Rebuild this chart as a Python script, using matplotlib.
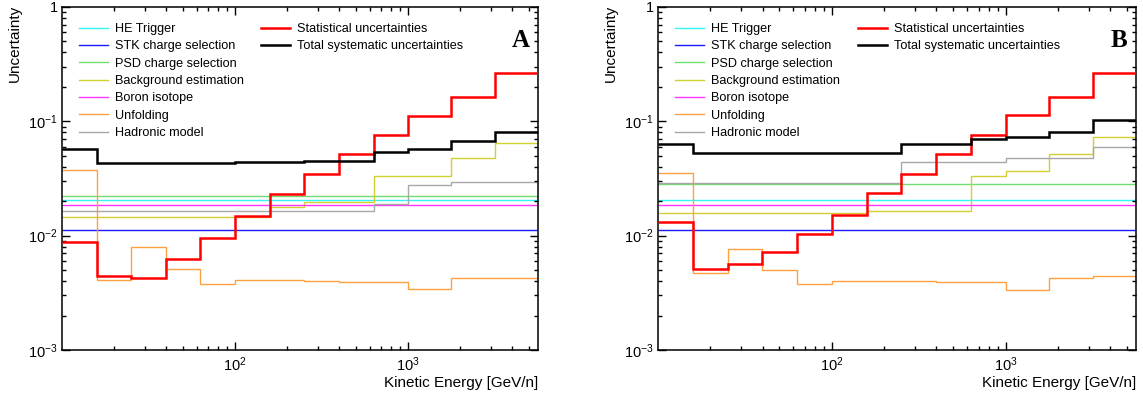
import matplotlib
matplotlib.use("Agg")
import matplotlib.pyplot as plt
from matplotlib.ticker import FixedLocator, FixedFormatter, LogLocator, NullFormatter
import numpy as np

plt.rcParams['font.family'] = 'Liberation Sans'
plt.rcParams['mathtext.fontset'] = 'custom'
plt.rcParams['mathtext.rm'] = 'Liberation Sans'
plt.rcParams['mathtext.it'] = 'Liberation Sans:italic'

# bin edges in kinetic energy [GeV/n]
energy_edges = [10, 15.85, 25.12, 39.81, 63.1, 100, 158.5, 251.2, 398.1, 631, 1000, 1778, 3162, 5623]

names = ["HE Trigger", "STK charge selection", "PSD charge selection", "Background estimation",
         "Boron isotope", "Unfolding", "Hadronic model"]
colors = ["#33f5f5", "#1a1aff", "#70dd70", "#d0d030", "#ff33ff", "#ffa040", "#a8a8a8"]

# panel A
he_a = 0.0204
stk_a = 0.0111
psd_a = 0.0224
boron_a = 0.0185
bkg_a = [0.0145, 0.0145, 0.0145, 0.0145, 0.0145, 0.0145, 0.0177, 0.0196, 0.0196, 0.0331, 0.0331, 0.0481, 0.0647]
unf_a = [0.0373, 0.0041, 0.0079, 0.0051, 0.0038, 0.0041, 0.0041, 0.0040, 0.0039, 0.0039, 0.0034, 0.0043, 0.0043]
had_a = [0.0165, 0.0165, 0.0165, 0.0165, 0.0165, 0.0165, 0.0165, 0.0165, 0.0165, 0.0188, 0.0279, 0.0293, 0.0293]
stat_a = [0.0088, 0.0044, 0.0043, 0.0062, 0.0096, 0.0149, 0.0232, 0.0347, 0.0522, 0.0767, 0.112, 0.163, 0.265]
sys_a = [0.0568, 0.0433, 0.0434, 0.0432, 0.0432, 0.0438, 0.0444, 0.0453, 0.0453, 0.0537, 0.0574, 0.0678, 0.0802]

# panel B
he_b = 0.0204
stk_b = 0.0111
psd_b = 0.0284
boron_b = 0.0185
bkg_b = [0.0157, 0.0157, 0.0157, 0.0157, 0.0157, 0.0157, 0.0164, 0.0164, 0.0164, 0.0331, 0.0366, 0.0519, 0.0727]
unf_b = [0.0356, 0.0047, 0.0076, 0.0050, 0.0038, 0.0040, 0.0040, 0.0040, 0.0039, 0.0039, 0.00335, 0.0043, 0.0044]
had_b = [0.0286, 0.0286, 0.0286, 0.0286, 0.0286, 0.0286, 0.0286, 0.0441, 0.0441, 0.0441, 0.0481, 0.0481, 0.0601]
stat_b = [0.0133, 0.0051, 0.0056, 0.0072, 0.0104, 0.0153, 0.0237, 0.0347, 0.0519, 0.0764, 0.113, 0.164, 0.265]
sys_b = [0.0634, 0.0526, 0.0527, 0.0526, 0.0526, 0.0526, 0.0526, 0.0631, 0.0631, 0.0697, 0.0731, 0.0813, 0.1028]

y_ticks = [1e-3, 1e-2, 1e-1, 1]
y_ticklabels = ["10$^{-3}$", "10$^{-2}$", "10$^{-1}$", "1"]
x_ticks = [100, 1000]
x_ticklabels = ["10$^{2}$", "10$^{3}$"]

W, H = 1143, 398
legend_kw = dict(loc="upper left", frameon=False, fontsize=9.1, handlelength=2.3,
                 handletextpad=0.55, labelspacing=0.42, borderaxespad=0, borderpad=0)


def draw_panel(ax, components, stat, syst, letter):
    nbins = len(energy_edges) - 1
    handles = []
    for name, col, vals in zip(names, colors, components):
        if np.isscalar(vals):
            vals = [vals] * nbins
        h = ax.stairs(vals, energy_edges, baseline=None, color=col, linewidth=1.0, label=name)
        handles.append(h)
    hs = ax.stairs(stat, energy_edges, baseline=None, color="#ff0000", linewidth=1.8,
                   label="Statistical uncertainties", zorder=4)
    ht = ax.stairs(syst, energy_edges, baseline=None, color="black", linewidth=1.8,
                   label="Total systematic uncertainties", zorder=5)

    ax.set_xscale("log")
    ax.set_yscale("log")
    ax.set_xlim(energy_edges[0], energy_edges[-1])
    ax.set_ylim(1e-3, 1)

    ax.yaxis.set_major_locator(FixedLocator(y_ticks))
    ax.yaxis.set_major_formatter(FixedFormatter(y_ticklabels))
    ax.yaxis.set_minor_locator(LogLocator(base=10, subs=np.arange(2, 10)))
    ax.yaxis.set_minor_formatter(NullFormatter())
    ax.xaxis.set_major_locator(FixedLocator(x_ticks))
    ax.xaxis.set_major_formatter(FixedFormatter(x_ticklabels))
    ax.xaxis.set_minor_locator(LogLocator(base=10, subs=np.arange(2, 10)))
    ax.xaxis.set_minor_formatter(NullFormatter())
    ax.tick_params(which="both", direction="in", top=True, right=True, labelsize=10.5, width=1.0)
    ax.tick_params(which="major", length=5.5)
    ax.tick_params(which="minor", length=2.8)
    ax.tick_params(axis="y", pad=3)
    ax.tick_params(axis="x", pad=4)
    for s in ax.spines.values():
        s.set_linewidth(1.1)

    leg1 = ax.legend(handles=handles, bbox_to_anchor=(0.036, 0.953), **legend_kw)
    ax.add_artist(leg1)
    ax.legend(handles=[hs, ht], bbox_to_anchor=(0.418, 0.953), **legend_kw)

    ax.text(0.983, 0.937, letter, transform=ax.transAxes, ha="right", va="top",
            family="Liberation Serif", weight="bold", fontsize=18)


fig = plt.figure(figsize=(W / 100, H / 100), dpi=100)
ax_a = fig.add_axes([62 / W, 48 / H, 476 / W, 343 / H])
ax_b = fig.add_axes([658 / W, 48 / H, 478 / W, 343 / H])

draw_panel(ax_a, [he_a, stk_a, psd_a, bkg_a, boron_a, unf_a, had_a], stat_a, sys_a, "A")
draw_panel(ax_b, [he_b, stk_b, psd_b, bkg_b, boron_b, unf_b, had_b], stat_b, sys_b, "B")

for xl, xr in [(15, 538), (611, 1136)]:
    fig.text(xl / W, 1 - 5 / H, "Uncertainty", rotation=90, ha="center", va="top", fontsize=11)
    fig.text(xr / W, 1 - 383 / H, "Kinetic Energy [GeV/n]", ha="right", va="center", fontsize=11)

fig.savefig("out.png", dpi=100)
